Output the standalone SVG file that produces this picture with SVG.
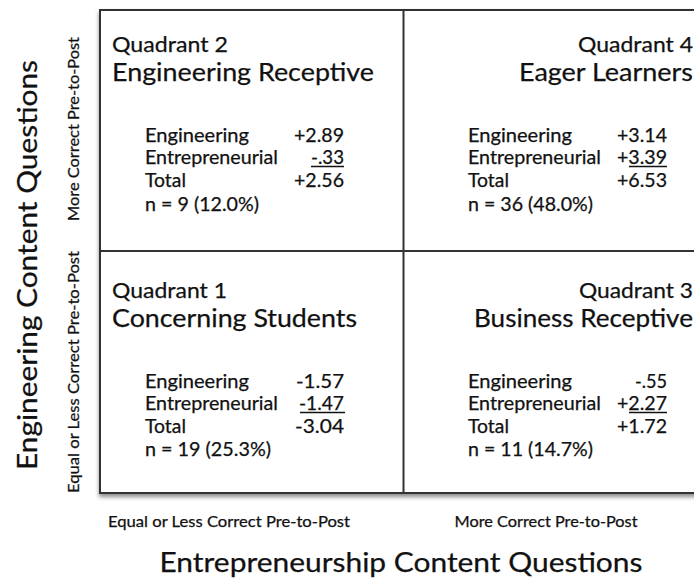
<svg xmlns="http://www.w3.org/2000/svg" width="694" height="579" viewBox="0 0 694 579">
  <defs>
    <filter id="shadow" x="-5%" y="-5%" width="110%" height="115%">
      <feDropShadow dx="0" dy="3" stdDeviation="2" flood-color="#000" flood-opacity="0.45"/>
    </filter>
    <style>
      text { font-family: Lato, "Noto Sans", "DejaVu Sans", sans-serif; fill: #111; stroke: #111; stroke-width: 0.25; }
      .qnum { font-size: 22px; }
      .qname { font-size: 25.5px; }
      .row { font-size: 18.5px; }
      .val { font-size: 18.5px; text-anchor: end; }
      .tick { font-size: 15px; text-anchor: middle; }
      .axis { font-size: 27px; text-anchor: middle; }
      .end { text-anchor: end; }
      .frame { fill: #fff; stroke: #333; stroke-width: 2; }
      .grid { stroke: #333; stroke-width: 2; fill: none; }
      .ul { stroke: #111; stroke-width: 1.3; }
    </style>
  </defs>
  <rect width="694" height="579" fill="#fff"/>

  <!-- quadrant frame and dividing lines -->
  <g id="connectors">
    <rect class="frame" x="100" y="10" width="640" height="483" filter="url(#shadow)"/>
    <line class="grid" x1="403.5" y1="10" x2="403.5" y2="493"/>
    <line class="grid" x1="100" y1="251" x2="740" y2="251"/>
  </g>

  <!-- top left -->
  <g id="quadrant2">
    <text class="qnum" x="112" y="52" textLength="116" lengthAdjust="spacingAndGlyphs">Quadrant 2</text>
    <text class="qname" x="112" y="81" textLength="262" lengthAdjust="spacingAndGlyphs">Engineering Receptive</text>
    <text class="row" x="145" y="142" textLength="104" lengthAdjust="spacingAndGlyphs">Engineering</text>
    <text class="row" x="145" y="164" textLength="133" lengthAdjust="spacingAndGlyphs">Entrepreneurial</text>
    <text class="row" x="145" y="187" textLength="41" lengthAdjust="spacingAndGlyphs">Total</text>
    <text class="row" x="145" y="211" textLength="114" lengthAdjust="spacingAndGlyphs">n = 9 (12.0%)</text>
    <text class="val" x="344" y="142" textLength="50" lengthAdjust="spacingAndGlyphs">+2.89</text>
    <text class="val" x="344" y="164" textLength="33" lengthAdjust="spacingAndGlyphs">-.33</text>
    <text class="val" x="344" y="187" textLength="50" lengthAdjust="spacingAndGlyphs">+2.56</text>
    <line class="ul" x1="311" y1="166.5" x2="344" y2="166.5"/>
  </g>

  <!-- top right -->
  <g id="quadrant4">
    <text class="qnum end" x="693" y="52" textLength="115" lengthAdjust="spacingAndGlyphs">Quadrant 4</text>
    <text class="qname end" x="693" y="81" textLength="174" lengthAdjust="spacingAndGlyphs">Eager Learners</text>
    <text class="row" x="468" y="142" textLength="104" lengthAdjust="spacingAndGlyphs">Engineering</text>
    <text class="row" x="468" y="164" textLength="133" lengthAdjust="spacingAndGlyphs">Entrepreneurial</text>
    <text class="row" x="468" y="187" textLength="41" lengthAdjust="spacingAndGlyphs">Total</text>
    <text class="row" x="468" y="211" textLength="125" lengthAdjust="spacingAndGlyphs">n = 36 (48.0%)</text>
    <text class="val" x="667" y="142" textLength="50" lengthAdjust="spacingAndGlyphs">+3.14</text>
    <text class="val" x="667" y="164" textLength="50" lengthAdjust="spacingAndGlyphs">+3.39</text>
    <text class="val" x="667" y="187" textLength="50" lengthAdjust="spacingAndGlyphs">+6.53</text>
    <line class="ul" x1="629" y1="166.5" x2="667" y2="166.5"/>
  </g>

  <!-- bottom left -->
  <g id="quadrant1">
    <text class="qnum" x="112" y="298" textLength="115" lengthAdjust="spacingAndGlyphs">Quadrant 1</text>
    <text class="qname" x="112" y="327" textLength="245" lengthAdjust="spacingAndGlyphs">Concerning Students</text>
    <text class="row" x="145" y="388" textLength="104" lengthAdjust="spacingAndGlyphs">Engineering</text>
    <text class="row" x="145" y="410" textLength="133" lengthAdjust="spacingAndGlyphs">Entrepreneurial</text>
    <text class="row" x="145" y="433" textLength="41" lengthAdjust="spacingAndGlyphs">Total</text>
    <text class="row" x="145" y="456" textLength="126" lengthAdjust="spacingAndGlyphs">n = 19 (25.3%)</text>
    <text class="val" x="344" y="388" textLength="48" lengthAdjust="spacingAndGlyphs">-1.57</text>
    <text class="val" x="344" y="410" textLength="45" lengthAdjust="spacingAndGlyphs">-1.47</text>
    <text class="val" x="344" y="433" textLength="49" lengthAdjust="spacingAndGlyphs">-3.04</text>
    <line class="ul" x1="300" y1="412.5" x2="345" y2="412.5"/>
  </g>

  <!-- bottom right -->
  <g id="quadrant3">
    <text class="qnum end" x="693" y="298" textLength="114" lengthAdjust="spacingAndGlyphs">Quadrant 3</text>
    <text class="qname end" x="693" y="327" textLength="219" lengthAdjust="spacingAndGlyphs">Business Receptive</text>
    <text class="row" x="468" y="388" textLength="104" lengthAdjust="spacingAndGlyphs">Engineering</text>
    <text class="row" x="468" y="410" textLength="133" lengthAdjust="spacingAndGlyphs">Entrepreneurial</text>
    <text class="row" x="468" y="433" textLength="41" lengthAdjust="spacingAndGlyphs">Total</text>
    <text class="row" x="468" y="456" textLength="125" lengthAdjust="spacingAndGlyphs">n = 11 (14.7%)</text>
    <text class="val" x="667" y="388" textLength="32" lengthAdjust="spacingAndGlyphs">-.55</text>
    <text class="val" x="667" y="410" textLength="50" lengthAdjust="spacingAndGlyphs">+2.27</text>
    <text class="val" x="667" y="433" textLength="50" lengthAdjust="spacingAndGlyphs">+1.72</text>
    <line class="ul" x1="629" y1="412.5" x2="667" y2="412.5"/>
  </g>

  <!-- horizontal axis -->
  <g id="x-axis">
    <text class="tick" x="229" y="527" textLength="242" lengthAdjust="spacingAndGlyphs">Equal or Less Correct Pre-to-Post</text>
    <text class="tick" x="546" y="527" textLength="183" lengthAdjust="spacingAndGlyphs">More Correct Pre-to-Post</text>
    <text class="axis" x="401" y="572" textLength="483" lengthAdjust="spacingAndGlyphs">Entrepreneurship Content Questions</text>
  </g>

  <!-- vertical axis -->
  <g id="y-axis">
    <text class="axis" transform="translate(37,265) rotate(-90)" textLength="410" lengthAdjust="spacingAndGlyphs">Engineering Content Questions</text>
    <text class="tick" transform="translate(79,129) rotate(-90)" textLength="184" lengthAdjust="spacingAndGlyphs">More Correct Pre-to-Post</text>
    <text class="tick" transform="translate(79,372) rotate(-90)" textLength="242" lengthAdjust="spacingAndGlyphs">Equal or Less Correct Pre-to-Post</text>
  </g>
</svg>
